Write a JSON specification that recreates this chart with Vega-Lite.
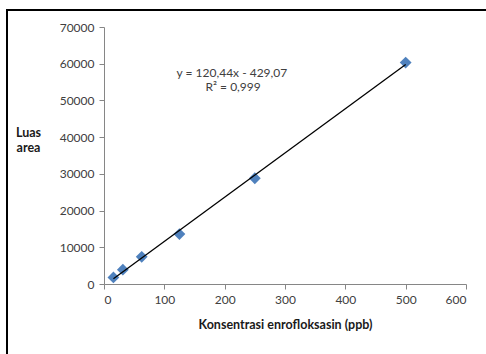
{
  "$schema": "https://vega.github.io/schema/vega-lite/v6.json",
  "autosize": {"type": "none"},
  "padding": {"left": 7, "top": 10, "right": 0, "bottom": 0},
  "width": 490,
  "height": 350,
  "background": "white",
  "config": {
    "view": {"stroke": "black", "strokeWidth": 2},
    "font": "Lato",
    "axis": {
      "labelFont": "Lato",
      "titleFont": "Lato",
      "labelFontSize": 12,
      "labelColor": "#404040",
      "titleColor": "#1a1a1a",
      "titleFontSize": 12.5,
      "titleFontWeight": "bold",
      "domainColor": "#868686",
      "tickColor": "#868686",
      "tickSize": 5,
      "grid": false
    }
  },
  "datasets": {
    "points": [
      {"konsentrasi": 15.625, "luas": 1800},
      {"konsentrasi": 31.25, "luas": 3900},
      {"konsentrasi": 62.5, "luas": 7400},
      {"konsentrasi": 125, "luas": 13600},
      {"konsentrasi": 250, "luas": 28800},
      {"konsentrasi": 500, "luas": 60300}
    ],
    "trend": [
      {"konsentrasi": 15.625, "luas": 1453},
      {"konsentrasi": 500, "luas": 59791}
    ],
    "labels": [
      {"konsentrasi": 212, "luas": 57500, "text": "y = 120,44x - 429,07"},
      {"konsentrasi": 214, "luas": 53700, "text": "R² = 0,999"}
    ]
  },
  "layer": [
    {
      "data": {"name": "points"},
      "mark": {"type": "point", "shape": "diamond", "filled": true, "color": "#4F81BD", "size": 140, "opacity": 1},
      "encoding": {
        "x": {
          "field": "konsentrasi", "type": "quantitative",
          "scale": {"domain": [0, 600], "range": [97, 459], "nice": false, "zero": false},
          "axis": {
            "orient": "bottom", "offset": -76, "values": [0, 100, 200, 300, 400, 500, 600],
            "title": "Konsentrasi enrofloksasin (ppb)", "titlePadding": 13, "labelPadding": 5
          }
        },
        "y": {
          "field": "luas", "type": "quantitative",
          "scale": {"domain": [0, 70000], "range": [274, 17], "nice": false, "zero": false},
          "axis": {
            "orient": "left", "offset": -97, "values": [0, 10000, 20000, 30000, 40000, 50000, 60000, 70000],
            "format": "d", "labelPadding": 5,
            "title": ["Luas", "area"], "titleAngle": 0, "titleAlign": "center", "titleBaseline": "middle",
            "titleX": -76, "titleY": 122, "titleLineHeight": 15
          }
        }
      }
    },
    {
      "data": {"name": "trend"},
      "mark": {"type": "line", "color": "black", "strokeWidth": 1.3},
      "encoding": {
        "x": {"field": "konsentrasi", "type": "quantitative"},
        "y": {"field": "luas", "type": "quantitative"}
      }
    },
    {
      "data": {"name": "labels"},
      "mark": {"type": "text", "font": "Lato", "fontSize": 12, "color": "#404040", "align": "center", "baseline": "middle"},
      "encoding": {
        "x": {"field": "konsentrasi", "type": "quantitative"},
        "y": {"field": "luas", "type": "quantitative"},
        "text": {"field": "text"}
      }
    }
  ]
}
